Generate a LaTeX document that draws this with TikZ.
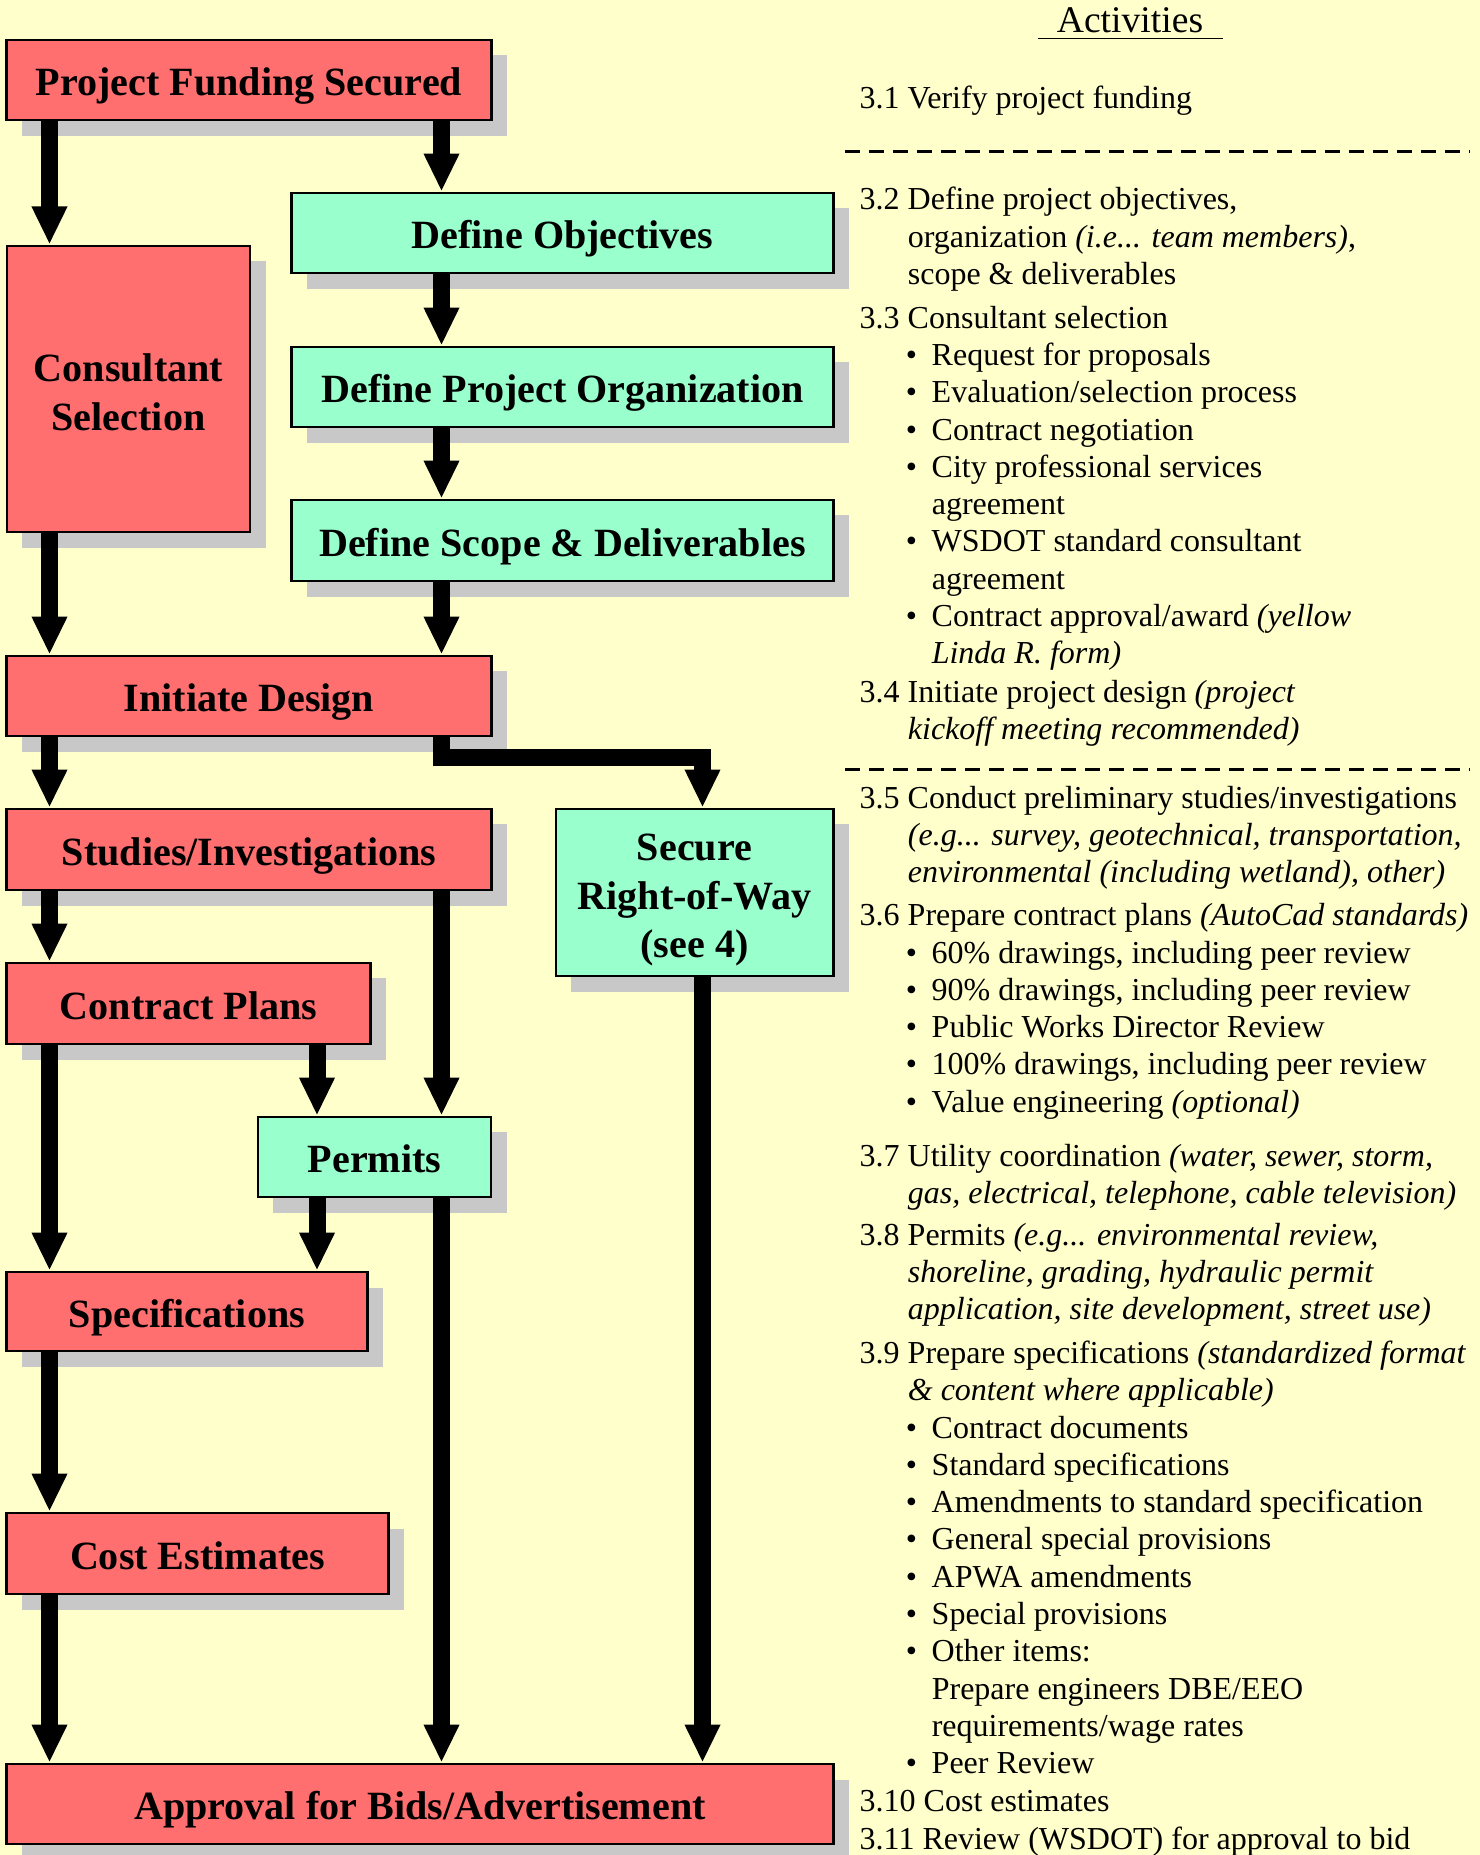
\documentclass[tikz,border=0pt]{standalone}
\usepackage{fontspec}
\setmainfont{Liberation Serif}
\definecolor{paper}{RGB}{255,255,204}
\definecolor{boxred}{RGB}{255,111,111}
\definecolor{boxgreen}{RGB}{153,255,204}
\definecolor{shade}{RGB}{200,200,200}
\usetikzlibrary{arrows.meta, shadows}
\newcommand{\actlines}[1]{\begin{tabular}[t]{@{}l@{}}#1\end{tabular}}
\newcommand{\bul}{\hspace*{13.1pt}\textbullet\hspace{4.2pt}}

\begin{document}
\begin{tikzpicture}[x=0.01cm, y=-0.01cm,
  stage/.style={draw, line width=0.8pt, inner sep=0pt, align=center,
    font=\fontsize{11.4}{13.8}\selectfont\bfseries,
    drop shadow={shadow xshift=0.155cm, shadow yshift=-0.155cm, fill=shade, opacity=1}},
  oneline/.style={text height=8.9pt, text depth=0pt},
  redbox/.style={stage, fill=boxred},
  greenbox/.style={stage, fill=boxgreen},
  flow/.style={line width=0.17cm, -{Triangle[length=0.38cm, width=0.33cm]}},
  divider/.style={line width=0.85pt, dash pattern=on 0.15cm off 0.09cm},
  act/.style={anchor=base west, inner sep=0pt, font=\fontsize{9.1}{10.6}\selectfont}]

\path[use as bounding box, fill=paper] (0,0) rectangle (1480,1855);

% flow chart
\node[redbox, oneline, minimum width=4.84cm, minimum height=0.80cm] (pfs) at (249,80) {Project Funding Secured};
\node[greenbox, oneline, minimum width=5.41cm, minimum height=0.80cm] (obj) at (562.5,233) {Define Objectives};
\node[greenbox, oneline, minimum width=5.41cm, minimum height=0.80cm] (org) at (562.5,387) {Define Project Organization};
\node[greenbox, oneline, minimum width=5.41cm, minimum height=0.81cm] (scope) at (562.5,540.5) {Define Scope \& Deliverables};
\node[redbox, minimum width=2.43cm, minimum height=2.86cm] (cons) at (128.5,389) {\rule{0pt}{9.8pt}Consultant\\Selection};
\node[redbox, oneline, minimum width=4.84cm, minimum height=0.80cm] (init) at (249,696) {Initiate Design};
\node[redbox, oneline, minimum width=4.84cm, minimum height=0.81cm] (study) at (249,849.5) {Studies/Investigations};
\node[greenbox, minimum width=2.77cm, minimum height=1.67cm] (row) at (694.5,892.5) {\rule{0pt}{11.9pt}Secure\\Right-of-Way\\(see 4)};
\node[redbox, oneline, minimum width=3.63cm, minimum height=0.81cm] (plans) at (188.5,1003.5) {Contract Plans};
\node[greenbox, oneline, minimum width=2.33cm, minimum height=0.80cm] (permits) at (374.5,1157) {Permits};
\node[redbox, oneline, minimum width=3.60cm, minimum height=0.79cm] (specs) at (187,1311.5) {Specifications};
\node[redbox, oneline, minimum width=3.81cm, minimum height=0.81cm] (cost) at (197.5,1553.5) {Cost Estimates};
\node[redbox, oneline, minimum width=8.26cm, minimum height=0.80cm] (bids) at (420,1804) {Approval for Bids/Advertisement};

% arrow lanes
\coordinate (trunk) at (49.5,0);
\coordinate (spine) at (441.5,0);
\coordinate (branch) at (317,0);
\coordinate (turn) at (702.5,757.5);

\draw[flow] (pfs.south -| trunk) -- (cons.north -| trunk);
\draw[flow] (pfs.south -| spine) -- (obj.north -| spine);
\draw[flow] (obj.south -| spine) -- (org.north -| spine);
\draw[flow] (org.south -| spine) -- (scope.north -| spine);
\draw[flow] (scope.south -| spine) -- (init.north -| spine);
\draw[flow] (cons.south -| trunk) -- (init.north -| trunk);
\draw[flow] (init.south -| trunk) -- (study.north -| trunk);
\draw[flow] (init.south -| spine) |- (turn) -- (row.north -| turn);
\draw[flow] (study.south -| trunk) -- (plans.north -| trunk);
\draw[flow] (study.south -| spine) -- (permits.north -| spine);
\draw[flow] (plans.south -| trunk) -- (specs.north -| trunk);
\draw[flow] (plans.south -| branch) -- (permits.north -| branch);
\draw[flow] (permits.south -| branch) -- (specs.north -| branch);
\draw[flow] (permits.south -| spine) -- (bids.north -| spine);
\draw[flow] (specs.south -| trunk) -- (cost.north -| trunk);
\draw[flow] (cost.south -| trunk) -- (bids.north -| trunk);
\draw[flow] (row.south -| turn) -- (bids.north -| turn);

% activities column
\node[anchor=base, inner sep=0pt, font=\fontsize{10.7}{12}\selectfont] (head) at (1130,33)
  {\underline{\hspace{5.5pt}Activities\hspace{5.5pt}}};

\node[act] (a1) at (859,108.3) {3.1 Verify project funding};
\draw[divider] (845,151.5) -- (1470,151.5);
\node[act] (a2) at (859,210) {\actlines{3.2 Define project objectives,\\
  \hspace*{13.7pt}organization \textit{(i.e... team members)},\\
  \hspace*{13.7pt}scope \& deliverables}};
\node[act] (a3) at (859,328.3) {\actlines{3.3 Consultant selection\\
  \bul Request for proposals\\
  \bul Evaluation/selection process\\
  \bul Contract negotiation\\
  \bul City professional services\\
  \hspace*{20.5pt}agreement\\
  \bul WSDOT standard consultant\\
  \hspace*{20.5pt}agreement\\
  \bul Contract approval/award \textit{(yellow}\\
  \hspace*{20.5pt}\textit{Linda R. form)}}};
\node[act] (a4) at (859,702.2) {\actlines{3.4 Initiate project design \textit{(project}\\
  \hspace*{13.7pt}\textit{kickoff meeting recommended)}}};
\draw[divider] (845,769) -- (1470,769);
\node[act] (a5) at (859,808) {\actlines{3.5 Conduct preliminary studies/investigations\\
  \hspace*{13.7pt}\textit{(e.g... survey, geotechnical, transportation,}\\
  \hspace*{13.7pt}\textit{environmental (including wetland), other)}}};
\node[act] (a6) at (859,925.8) {\actlines{3.6 Prepare contract plans \textit{(AutoCad standards)}\\
  \bul 60\% drawings, including peer review\\
  \bul 90\% drawings, including peer review\\
  \bul Public Works Director Review\\
  \bul 100\% drawings, including peer review\\
  \bul Value engineering \textit{(optional)}}};
\node[act] (a7) at (859,1166) {\actlines{3.7 Utility coordination \textit{(water, sewer, storm,}\\
  \hspace*{13.7pt}\textit{gas, electrical, telephone, cable television)}}};
\node[act] (a8) at (859,1245.2) {\actlines{3.8 Permits \textit{(e.g... environmental review,}\\
  \hspace*{13.7pt}\textit{shoreline, grading, hydraulic permit}\\
  \hspace*{13.7pt}\textit{application, site development, street use)}}};
\node[act] (a9) at (859,1363.5) {\actlines{3.9 Prepare specifications \textit{(standardized format}\\
  \hspace*{13.7pt}\textit{\& content where applicable)}\\
  \bul Contract documents\\
  \bul Standard specifications\\
  \bul Amendments to standard specification\\
  \bul General special provisions\\
  \bul APWA amendments\\
  \bul Special provisions\\
  \bul Other items:\\
  \hspace*{20.5pt}Prepare engineers DBE/EEO\\
  \hspace*{20.5pt}requirements/wage rates\\
  \bul Peer Review}};
\node[act] (a10) at (859,1811.9) {3.10 Cost estimates};
\node[act] (a11) at (859,1849.8) {3.11 Review (WSDOT) for approval to bid};
\end{tikzpicture}
\end{document}
